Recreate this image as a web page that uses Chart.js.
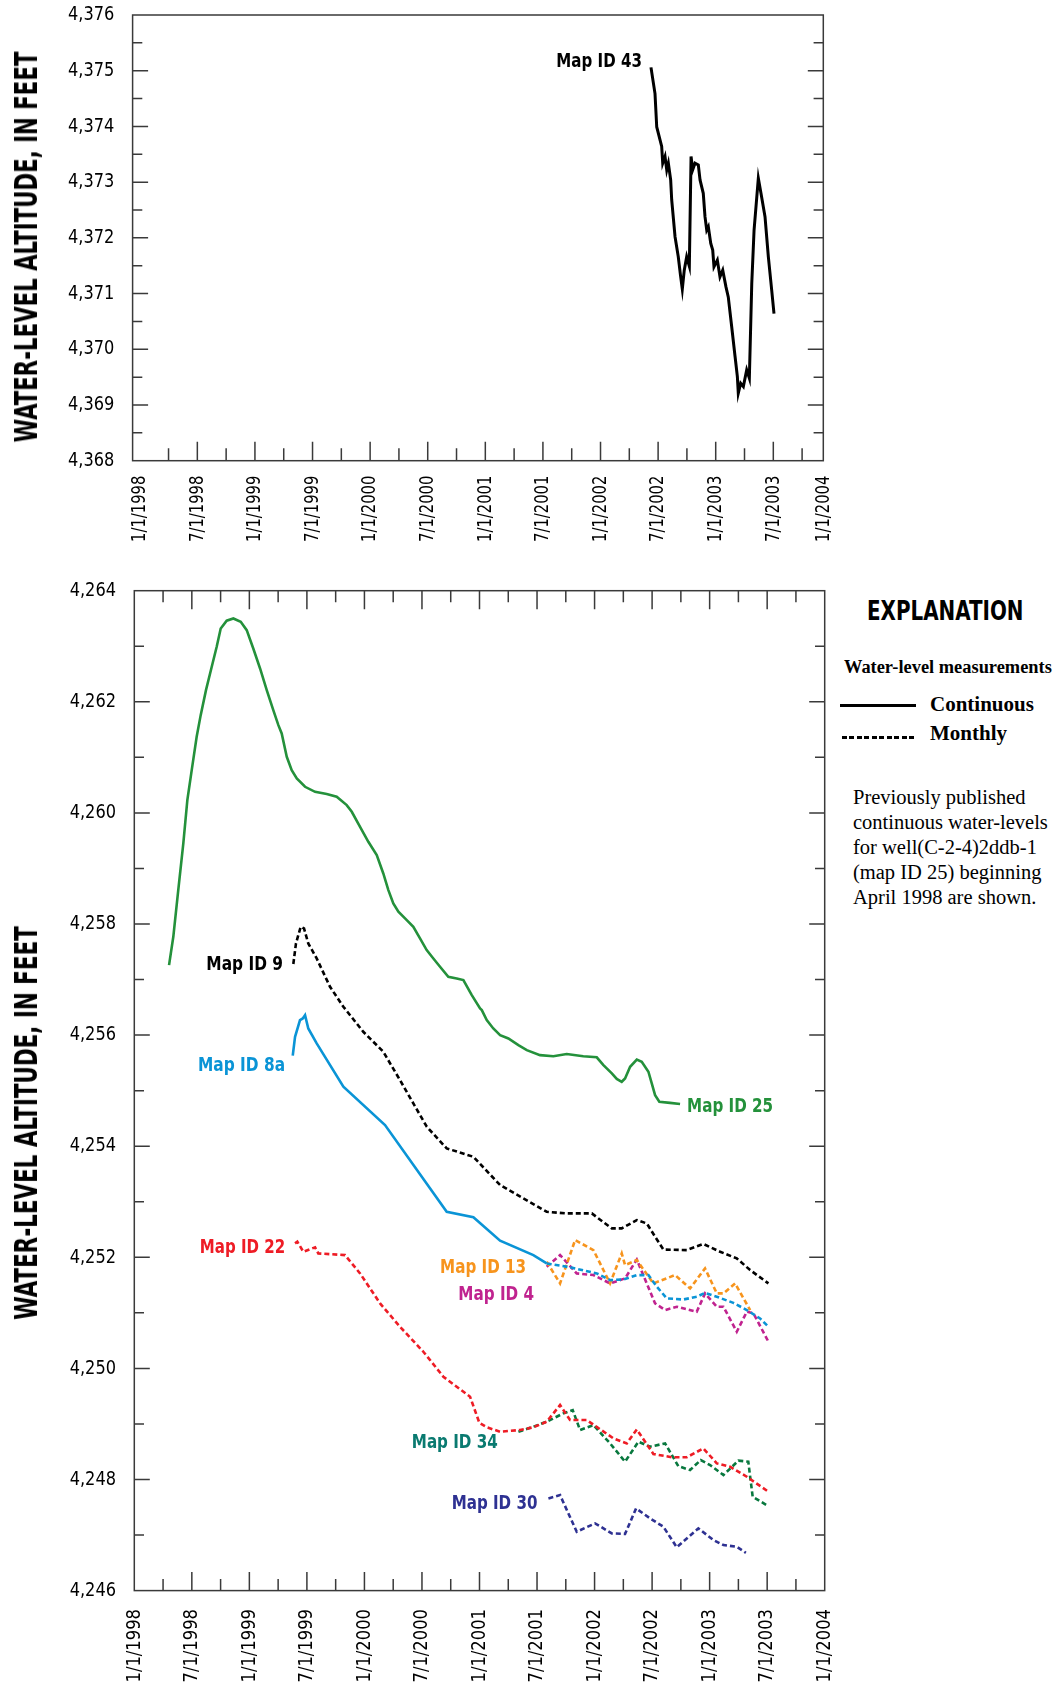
<!DOCTYPE html>
<html>
<head>
<meta charset="utf-8">
<script src="https://cdn.jsdelivr.net/npm/chart.js@4.4.1/dist/chart.umd.min.js"></script>
<style>
  html, body { margin: 0; padding: 0; background: #fff; }
  body { position: relative; width: 1063px; height: 1686px; overflow: hidden; }
  canvas { position: absolute; left: 0; }
  .txt { position: absolute; white-space: nowrap; color: #000; }
  .narrow { font-family: "Liberation Sans Narrow", "Arial Narrow", "DejaVu Sans Condensed", sans-serif; font-weight: bold; }
  .serif { font-family: "Liberation Serif", "Times New Roman", serif; }
  .ytitle { font-size: 32px; line-height: 1; transform-origin: 0 0; }
  .legline { position: absolute; height: 2.5px; }
</style>
</head>
<body>
<canvas id="topChart" width="840" height="545" style="top:0"></canvas>
<canvas id="bottomChart" width="840" height="1141" style="top:545px"></canvas>

<div id="titleTop" class="txt narrow ytitle">WATER-LEVEL ALTITUDE, IN FEET</div>
<div id="titleBottom" class="txt narrow ytitle">WATER-LEVEL ALTITUDE, IN FEET</div>

<div id="explain" class="txt narrow" style="left:867px;top:597px;font-size:27px;line-height:27px;transform-origin:0 0">EXPLANATION</div>
<div class="txt serif" style="left:844px;top:658px;font-size:18.4px;line-height:18px;font-weight:bold">Water-level measurements</div>
<div class="legline" style="left:840px;top:704px;width:76px;background:#000"></div>
<div class="txt serif" style="left:930px;top:694px;font-size:21px;line-height:21px;font-weight:bold">Continuous</div>
<div class="legline" style="left:842px;top:736px;width:75px;background:repeating-linear-gradient(90deg,#000 0 5px,transparent 5px 7.5px)"></div>
<div class="txt serif" style="left:930px;top:723px;font-size:21px;line-height:21px;font-weight:bold">Monthly</div>
<div class="txt serif" style="left:853px;top:785px;font-size:20.5px;line-height:25px">
  Previously published<br>continuous water-levels<br>for well(C-2-4)2ddb-1<br>(map ID 25) beginning<br>April 1998 are shown.
</div>

<script>
// x values are decimal years (1998.5 = 7/1/1998), y values are feet
const xTickLabels = ['1/1/1998', '7/1/1998', '1/1/1999', '7/1/1999', '1/1/2000', '7/1/2000', '1/1/2001',
  '7/1/2001', '1/1/2002', '7/1/2002', '1/1/2003', '7/1/2003', '1/1/2004'];
const topYTicks = [4368, 4369, 4370, 4371, 4372, 4373, 4374, 4375, 4376];
const bottomYTicks = [4246, 4248, 4250, 4252, 4254, 4256, 4258, 4260, 4262, 4264];

// Map ID 43, continuous
const map43Years = [2002.438, 2002.473, 2002.488, 2002.531, 2002.540, 2002.560, 2002.575, 2002.589, 2002.609, 2002.618,
  2002.647, 2002.675, 2002.694, 2002.710, 2002.727, 2002.748, 2002.771, 2002.786, 2002.800, 2002.820,
  2002.849, 2002.864, 2002.892, 2002.907, 2002.922, 2002.936, 2002.957, 2002.974, 2002.985, 2003.014,
  2003.037, 2003.061, 2003.089, 2003.109, 2003.139, 2003.168, 2003.188, 2003.196, 2003.217, 2003.240,
  2003.269, 2003.292, 2003.313, 2003.333, 2003.370, 2003.393, 2003.428, 2003.457, 2003.486, 2003.506];
const map43Levels = [4375.06, 4374.59, 4373.99, 4373.64, 4373.34, 4373.46, 4373.22, 4373.34, 4373.04, 4372.68,
  4372.02, 4371.66, 4371.33, 4371.08, 4371.42, 4371.66, 4371.49, 4373.46, 4373.22, 4373.34,
  4373.31, 4373.04, 4372.80, 4372.38, 4372.14, 4372.20, 4371.90, 4371.78, 4371.48, 4371.60,
  4371.30, 4371.42, 4371.12, 4370.94, 4370.40, 4369.87, 4369.51, 4369.21, 4369.39, 4369.33,
  4369.63, 4369.48, 4371.18, 4372.14, 4373.07, 4372.80, 4372.38, 4371.66, 4371.06, 4370.64];

// Map ID 25, continuous (from April 1998)
const map25Years = [1998.302, 1998.339, 1998.382, 1998.426, 1998.461, 1998.499, 1998.542, 1998.577, 1998.623, 1998.673,
  1998.716, 1998.751, 1998.803, 1998.861, 1998.925, 1998.977, 1999.034, 1999.093, 1999.151, 1999.208,
  1999.252, 1999.281, 1999.325, 1999.368, 1999.412, 1999.484, 1999.571, 1999.672, 1999.759, 1999.846,
  1999.890, 1999.962, 2000.034, 2000.107, 2000.164, 2000.208, 2000.251, 2000.295, 2000.368, 2000.425,
  2000.483, 2000.541, 2000.599, 2000.657, 2000.729, 2000.802, 2000.860, 2000.933, 2001.005, 2001.020,
  2001.063, 2001.120, 2001.179, 2001.251, 2001.338, 2001.411, 2001.526, 2001.642, 2001.758, 2001.902,
  2002.019, 2002.077, 2002.150, 2002.193, 2002.236, 2002.265, 2002.309, 2002.367, 2002.410, 2002.468,
  2002.497, 2002.526, 2002.563, 2002.656, 2002.743];
const map25Levels = [4257.26, 4257.77, 4258.61, 4259.45, 4260.23, 4260.77, 4261.37, 4261.76, 4262.21, 4262.63,
  4262.99, 4263.32, 4263.46, 4263.50, 4263.44, 4263.29, 4262.96, 4262.60, 4262.21, 4261.85,
  4261.58, 4261.43, 4261.01, 4260.77, 4260.62, 4260.47, 4260.38, 4260.34, 4260.29, 4260.14,
  4260.02, 4259.75, 4259.48, 4259.24, 4258.91, 4258.61, 4258.37, 4258.22, 4258.07, 4257.95,
  4257.74, 4257.53, 4257.38, 4257.23, 4257.05, 4257.02, 4256.99, 4256.72, 4256.48, 4256.45,
  4256.27, 4256.12, 4256.00, 4255.94, 4255.82, 4255.73, 4255.64, 4255.62, 4255.66, 4255.62,
  4255.60, 4255.46, 4255.31, 4255.21, 4255.16, 4255.22, 4255.43, 4255.56, 4255.52, 4255.34,
  4255.13, 4254.92, 4254.80, 4254.78, 4254.76];

// Map ID 9, monthly
const map9Years = [1999.382, 1999.405, 1999.446, 1999.475, 1999.512, 1999.585, 1999.701, 1999.817, 1999.990, 2000.164,
  2000.309, 2000.425, 2000.542, 2000.715, 2000.947, 2001.179, 2001.381, 2001.584, 2001.758, 2001.976,
  2002.150, 2002.236, 2002.367, 2002.454, 2002.526, 2002.598, 2002.801, 2002.946, 2003.091, 2003.236,
  2003.352, 2003.511];
const map9Levels = [4257.28, 4257.65, 4257.95, 4257.92, 4257.65, 4257.38, 4256.87, 4256.51, 4256.06, 4255.70,
  4255.19, 4254.77, 4254.35, 4253.96, 4253.81, 4253.30, 4253.06, 4252.82, 4252.79, 4252.79,
  4252.52, 4252.52, 4252.67, 4252.61, 4252.37, 4252.14, 4252.13, 4252.24, 4252.10, 4251.98,
  4251.77, 4251.53];

// Map ID 8a, continuous then monthly
const map8aYears = [1999.377, 1999.397, 1999.440, 1999.464, 1999.484, 1999.512, 1999.585, 1999.817, 2000.179, 2000.715,
  2000.947, 2001.179, 2001.468, 2001.584, 2001.787, 2002.019, 2002.135, 2002.250, 2002.367, 2002.468,
  2002.541, 2002.628, 2002.772, 2002.888, 2002.960, 2003.062, 2003.206, 2003.323, 2003.438, 2003.511];
const map8aLevels = [4255.63, 4255.97, 4256.27, 4256.30, 4256.36, 4256.12, 4255.85, 4255.07, 4254.38, 4252.82,
  4252.72, 4252.30, 4252.04, 4251.89, 4251.82, 4251.71, 4251.59, 4251.60, 4251.68, 4251.68,
  4251.47, 4251.26, 4251.24, 4251.29, 4251.36, 4251.29, 4251.18, 4251.05, 4250.90, 4250.75];
const map8aMonthlyFrom = 2001.584;

// Map ID 13, monthly
const map13Years = [2001.584, 2001.700, 2001.831, 2001.990, 2002.135, 2002.236, 2002.265, 2002.367, 2002.511, 2002.700,
  2002.830, 2002.960, 2003.062, 2003.120, 2003.221, 2003.352];
const map13Levels = [4251.92, 4251.53, 4252.31, 4252.13, 4251.53, 4252.07, 4251.86, 4251.95, 4251.53, 4251.68,
  4251.44, 4251.80, 4251.35, 4251.35, 4251.53, 4251.05];

// Map ID 4, monthly
const map4Years = [2001.584, 2001.700, 2001.845, 2001.990, 2002.135, 2002.265, 2002.367, 2002.526, 2002.613, 2002.715,
  2002.888, 2002.960, 2003.062, 2003.120, 2003.236, 2003.323, 2003.381, 2003.511];
const map4Levels = [4251.83, 4252.04, 4251.71, 4251.68, 4251.53, 4251.62, 4251.96, 4251.17, 4251.05, 4251.11,
  4251.02, 4251.35, 4251.11, 4251.11, 4250.66, 4251.02, 4250.99, 4250.48];

// Map ID 22, monthly
const map22Years = [1999.397, 1999.417, 1999.469, 1999.571, 1999.599, 1999.831, 1999.962, 2000.136, 2000.309, 2000.512,
  2000.686, 2000.918, 2000.999, 2001.063, 2001.179, 2001.353, 2001.468, 2001.584, 2001.700, 2001.787,
  2001.932, 2002.164, 2002.280, 2002.367, 2002.511, 2002.671, 2002.801, 2002.946, 2003.062, 2003.178,
  2003.323, 2003.511];
const map22Levels = [4252.25, 4252.28, 4252.10, 4252.18, 4252.07, 4252.04, 4251.71, 4251.17, 4250.75, 4250.30,
  4249.85, 4249.49, 4249.02, 4248.94, 4248.86, 4248.89, 4248.94, 4249.04, 4249.34, 4249.07,
  4249.07, 4248.74, 4248.65, 4248.90, 4248.46, 4248.40, 4248.40, 4248.56, 4248.29, 4248.23,
  4248.05, 4247.78];

// Map ID 34, monthly
const map34Years = [2001.338, 2001.468, 2001.584, 2001.729, 2001.810, 2001.874, 2001.990, 2002.135, 2002.265, 2002.381,
  2002.482, 2002.613, 2002.728, 2002.830, 2002.923, 2003.004, 2003.120, 2003.250, 2003.336, 2003.374,
  2003.511];
const map34Levels = [4248.86, 4248.95, 4249.04, 4249.19, 4249.25, 4248.89, 4248.98, 4248.65, 4248.32, 4248.68,
  4248.59, 4248.65, 4248.24, 4248.17, 4248.35, 4248.26, 4248.08, 4248.34, 4248.32, 4247.69,
  4247.52];

// Map ID 30, monthly
const map30Years = [2001.599, 2001.700, 2001.845, 2002.004, 2002.150, 2002.265, 2002.361, 2002.482, 2002.598, 2002.714,
  2002.902, 2003.033, 2003.120, 2003.236, 2003.315];
const map30Levels = [4247.66, 4247.72, 4247.06, 4247.21, 4247.03, 4247.02, 4247.48, 4247.30, 4247.15, 4246.78,
  4247.12, 4246.91, 4246.82, 4246.79, 4246.68];

const FONT = '"Liberation Sans Narrow", "Arial Narrow", "DejaVu Sans Condensed", sans-serif';
const AXIS = '#3a3a3a';
const DASH = [5, 3];

function series(xs, ys) {
  return xs.map((x, i) => ({ x: x, y: ys[i] }));
}

function lineSet(label, xs, ys, color, dash, width) {
  return {
    label: label,
    data: series(xs, ys),
    borderColor: color,
    borderWidth: width || 2.6,
    borderDash: dash || [],
    pointRadius: 0,
    tension: 0,
    fill: false
  };
}

// the condensed face of the original is narrower than any installed font,
// so tick labels are squeezed along the reading direction
function squeezeLabels(scale, kx, ky, origin) {
  if (scale._squeezed) return;
  scale._squeezed = true;
  const base = scale.drawLabels;
  scale._computeLabelArea = () => undefined; // no clipping, the squeeze keeps labels in place
  scale.drawLabels = function (area) {
    const ctx = this.ctx;
    const o = origin(this);
    ctx.save();
    ctx.translate(o.x, o.y);
    ctx.scale(kx, ky);
    ctx.translate(-o.x, -o.y);
    base.call(this, area);
    ctx.restore();
  };
}

// box around the plot with inward tick marks
const frameTicks = {
  id: 'frameTicks',
  afterDraw(chart, args, o) {
    const { ctx, chartArea: a, scales } = chart;
    const x = scales.x, y = scales.y;
    ctx.save();
    ctx.strokeStyle = AXIS;
    ctx.lineWidth = 1.5;
    ctx.strokeRect(a.left, a.top, a.right - a.left, a.bottom - a.top);
    ctx.beginPath();
    for (let v = o.xFrom; v <= o.xTo + 1e-9; v += o.xStep) {
      const px = x.getPixelForValue(v);
      const major = Math.abs(v / o.xMajor - Math.round(v / o.xMajor)) < 1e-6;
      const len = major ? o.xLen[0] : o.xLen[1];
      if (o.xSides.includes('bottom')) { ctx.moveTo(px, a.bottom); ctx.lineTo(px, a.bottom - len); }
      if (o.xSides.includes('top')) { ctx.moveTo(px, a.top); ctx.lineTo(px, a.top + len); }
    }
    for (let v = o.yFrom; v <= o.yTo + 1e-9; v += o.yStep) {
      const py = y.getPixelForValue(v);
      const major = Math.abs(v / o.yMajor - Math.round(v / o.yMajor)) < 1e-6;
      const len = major ? o.yLen[0] : o.yLen[1];
      ctx.moveTo(a.left, py); ctx.lineTo(a.left + len, py);
      ctx.moveTo(a.right, py); ctx.lineTo(a.right - len, py);
    }
    ctx.stroke();
    ctx.restore();
  }
};

// "Map ID" names next to the lines, anchored in data units
const mapLabels = {
  id: 'mapLabels',
  afterDatasetsDraw(chart, args, o) {
    const { ctx, scales } = chart;
    o.items.forEach(it => {
      const px = scales.x.getPixelForValue(it.x);
      const py = scales.y.getPixelForValue(it.y);
      ctx.save();
      ctx.font = 'bold 19px ' + FONT;
      ctx.fillStyle = it.color;
      ctx.textBaseline = 'alphabetic';
      ctx.textAlign = 'left';
      const w = ctx.measureText(it.text).width;
      const sx = it.width / w;
      ctx.translate(it.align === 'right' ? px - it.width : px, py);
      ctx.scale(sx, 1);
      ctx.fillText(it.text, 0, 0);
      ctx.restore();
    });
  }
};

function xScale(min, max, height, pad, squeeze) {
  return {
    type: 'linear',
    min: min,
    max: max,
    grid: { display: false, drawTicks: false },
    border: { display: false },
    afterBuildTicks: s => {
      s.ticks = xTickLabels.map((_, i) => ({ value: Math.min(Math.max(1998 + i / 2, min), max) }));
    },
    afterFit: s => {
      s.height = height;
      s.paddingLeft = 0;
      s.paddingRight = 0;
      squeezeLabels(s, 1, squeeze, sc => ({ x: 0, y: sc.top }));
    },
    ticks: {
      autoSkip: false,
      minRotation: 90,
      maxRotation: 90,
      padding: pad,
      color: '#000',
      font: { family: FONT, size: 20 },
      callback: (v, i) => xTickLabels[i]
    }
  };
}

function yScale(ticks, width) {
  return {
    type: 'linear',
    min: ticks[0],
    max: ticks[ticks.length - 1],
    grid: { display: false, drawTicks: false },
    border: { display: false },
    afterBuildTicks: s => { s.ticks = ticks.map(v => ({ value: v })); },
    afterFit: s => {
      s.width = width;
      s.paddingTop = 0;
      s.paddingBottom = 0;
      squeezeLabels(s, 0.9, 1, sc => ({ x: sc.right - 18.3, y: 0 }));
    },
    ticks: {
      padding: 18.3,
      color: '#000',
      font: { family: FONT, size: 20 },
      callback: v => v.toLocaleString('en-US')
    }
  };
}

new Chart(document.getElementById('topChart'), {
  type: 'line',
  data: {
    datasets: [lineSet('Map ID 43', map43Years, map43Levels, '#000000', null, 3)]
  },
  options: {
    responsive: false,
    animation: false,
    events: [],
    layout: { padding: { left: 0, top: 15, right: 16.7, bottom: 0 } },
    plugins: {
      legend: { display: false },
      tooltip: { enabled: false },
      frameTicks: {
        xFrom: 1998.25, xTo: 2003.75, xStep: 0.25, xMajor: 0.5, xLen: [19, 12.5], xSides: ['bottom'],
        yFrom: 4368.5, yTo: 4375.5, yStep: 0.5, yMajor: 1, yLen: [15.5, 9.7]
      },
      mapLabels: {
        items: [{ text: 'Map ID 43', x: 2002.359, y: 4375.06, color: '#000000', align: 'right', width: 85.5 }]
      }
    },
    scales: {
      x: xScale(1997.938, 2003.934, 84.3, 18.3, 0.82),
      y: yScale(topYTicks, 132.6)
    }
  },
  plugins: [frameTicks, mapLabels]
});

new Chart(document.getElementById('bottomChart'), {
  type: 'line',
  data: {
    datasets: [
      lineSet('Map ID 25', map25Years, map25Levels, '#24913b'),
      Object.assign(lineSet('Map ID 8a', map8aYears, map8aLevels, '#0a94d6'), {
        segment: { borderDash: c => (c.p0.parsed.x >= map8aMonthlyFrom - 1e-6 ? DASH : undefined) }
      }),
      lineSet('Map ID 9', map9Years, map9Levels, '#000000', DASH),
      lineSet('Map ID 22', map22Years, map22Levels, '#ee1c25', DASH),
      lineSet('Map ID 34', map34Years, map34Levels, '#08783e', DASH),
      lineSet('Map ID 13', map13Years, map13Levels, '#f7941d', DASH),
      lineSet('Map ID 4', map4Years, map4Levels, '#c0238f', DASH),
      lineSet('Map ID 30', map30Years, map30Levels, '#2e3192', DASH)
    ]
  },
  options: {
    responsive: false,
    animation: false,
    events: [],
    layout: { padding: { left: 0, top: 45.7, right: 15.3, bottom: 0 } },
    plugins: {
      legend: { display: false },
      tooltip: { enabled: false },
      frameTicks: {
        xFrom: 1998.25, xTo: 2003.75, xStep: 0.25, xMajor: 0.5, xLen: [18.5, 11.5], xSides: ['bottom', 'top'],
        yFrom: 4247, yTo: 4263, yStep: 1, yMajor: 2, yLen: [15.5, 9.7]
      },
      mapLabels: {
        items: [
          { text: 'Map ID 9', x: 1999.292, y: 4257.17, color: '#000000', align: 'right', width: 76.6 },
          { text: 'Map ID 8a', x: 1999.310, y: 4255.36, color: '#0a94d6', align: 'right', width: 87 },
          { text: 'Map ID 25', x: 2002.804, y: 4254.62, color: '#24913b', align: 'left', width: 86 },
          { text: 'Map ID 22', x: 1999.311, y: 4252.08, color: '#ee1c25', align: 'right', width: 85.4 },
          { text: 'Map ID 13', x: 2001.405, y: 4251.71, color: '#f7941d', align: 'right', width: 86 },
          { text: 'Map ID 4', x: 2001.474, y: 4251.23, color: '#c0238f', align: 'right', width: 75.7 },
          { text: 'Map ID 34', x: 2001.159, y: 4248.56, color: '#0a7a70', align: 'right', width: 86 },
          { text: 'Map ID 30', x: 2001.503, y: 4247.46, color: '#2e3192', align: 'right', width: 85.6 }
        ]
      }
    },
    scales: {
      x: xScale(1998, 2004, 95.4, 20.2, 0.91),
      y: yScale(bottomYTicks, 134.3)
    }
  },
  plugins: [frameTicks, mapLabels]
});

// rotated axis titles and the explanation heading, stretched to the reference lengths
function placeTitle(el, cx, cy, len) {
  const s = len / el.offsetWidth;
  el.style.left = cx + 'px';
  el.style.top = cy + 'px';
  el.style.transform = 'rotate(-90deg) scaleX(' + s + ') translate(-50%, -50%)';
}
placeTitle(document.getElementById('titleTop'), 25.5, 246.5, 391);
placeTitle(document.getElementById('titleBottom'), 25.5, 1122.5, 394);
const ex = document.getElementById('explain');
ex.style.transform = 'scaleX(' + (156.5 / ex.offsetWidth) + ')';
</script>
</body>
</html>
